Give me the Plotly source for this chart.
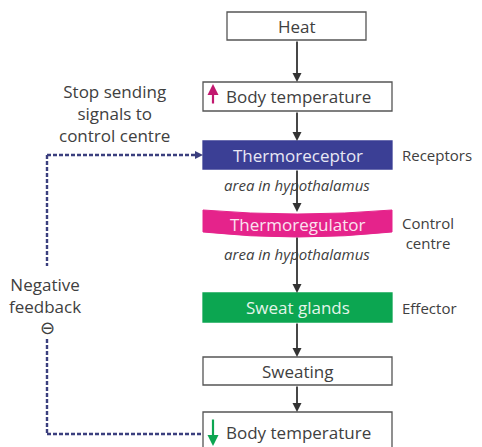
import plotly.graph_objects as go

# ---- content ----
node_labels = ["Heat", "Body temperature", "Thermoreceptor", "Thermoregulator",
               "Sweat glands", "Sweating", "Body temperature"]
node_fills = ["white", "white", "#3B3F95", "#E5238B", "#0CA651", "white", "white"]
node_text_colors = ["#404040", "#404040", "#E8E8F4", "#FBE3F0", "#E3F5EA", "#404040", "#404040"]
sub_labels = ["area in hypothalamus", "area in hypothalamus"]
side_labels = ["Receptors", "Control<br>centre", "Effector"]
left_top_label = "Stop sending<br>signals to<br>control centre"
left_mid_label = "Negative<br>feedback"

# ---- layout geometry (window pixel coordinates; page body has an 8px margin) ----
W, H = 482, 447
M = 8
X0, X1, XC = 203, 392, 297
boxes = [  # (x0, x1, y0, y1)
    (227, 366, 12, 40),
    (X0, X1, 82, 111),
    (X0, X1, 141, 169),
    (X0, X1, 210, 232),
    (X0, X1, 293, 322),
    (X0, X1, 357, 385),
    (X0, X1, 412, 452),
]
txt = "#404040"
font = "Open Sans"
navy = "#3B3F7E"
FS = 17

fig = go.Figure()
fig.add_trace(go.Scatter(x=[M, W], y=[M, H], mode="markers",
                         marker=dict(opacity=0), hoverinfo="skip", showlegend=False))

shapes = []
annotations = []

for i, (lab, fill, tc) in enumerate(zip(node_labels, node_fills, node_text_colors)):
    x0, x1, y0, y1 = boxes[i]
    if i == 3:
        path = (f"M {x0},{y0} Q {(x0+x1)/2},{y0+8} {x1},{y0} "
                f"L {x1},{y1} Q {(x0+x1)/2},{y1+10} {x0},{y1} Z")
        shapes.append(dict(type="path", path=path, xref="x", yref="y",
                           fillcolor=fill, line=dict(color=fill, width=1)))
    else:
        border = "#555555" if fill == "white" else fill
        shapes.append(dict(type="rect", x0=x0, x1=x1, y0=y0, y1=y1, xref="x", yref="y",
                           fillcolor=fill, line=dict(color=border, width=1.3)))
    ty = (y0 + y1) / 2 if i != 6 else 432
    tx = (x0 + x1) / 2
    if i in (1, 6):
        tx = 298
    if i == 3:
        ty = 224
    annotations.append(dict(x=tx, y=ty, xref="x", yref="y", text=lab, showarrow=False,
                            font=dict(family=font, size=FS, color=tc)))

# vertical arrows between boxes
arrow_pairs = [(40, 82), (111, 141), (169, 212), (236, 293), (322, 357), (385, 412)]
for ya, yb in arrow_pairs:
    annotations.append(dict(x=XC, y=yb, ax=XC, ay=ya, xref="x", yref="y", axref="x", ayref="y",
                            text="", showarrow=True, arrowhead=2, arrowsize=1,
                            arrowwidth=1.8, arrowcolor="#333333"))

# sub labels
for ylab, s in zip([185, 254], sub_labels):
    annotations.append(dict(x=XC, y=ylab, xref="x", yref="y", text=f"<i>{s}</i>",
                            showarrow=False, font=dict(family=font, size=15, color=txt)))

# side labels
for (ylab, s) in zip([155, 233, 308], side_labels):
    annotations.append(dict(x=400, y=ylab, xref="x", yref="y", text=s, xanchor="left",
                            showarrow=False, font=dict(family=font, size=15, color=txt)))

# left labels
annotations.append(dict(x=114, y=113, xref="x", yref="y", text=left_top_label,
                        showarrow=False, font=dict(family=font, size=FS, color=txt)))
annotations.append(dict(x=45, y=295, xref="x", yref="y", text=left_mid_label,
                        showarrow=False, font=dict(family=font, size=FS, color=txt)))
annotations.append(dict(x=47, y=327, xref="x", yref="y", text="⊖",
                        showarrow=False, font=dict(family="DejaVu Sans", size=18, color=txt)))

# up/down arrows inside body temperature boxes
annotations.append(dict(x=213, y=84, ax=213, ay=105, xref="x", yref="y", axref="x", ayref="y",
                        text="", showarrow=True, arrowhead=2, arrowsize=1, arrowwidth=2.2,
                        arrowcolor="#C2186F"))
annotations.append(dict(x=213, y=446, ax=213, ay=418, xref="x", yref="y", axref="x", ayref="y",
                        text="", showarrow=True, arrowhead=2, arrowsize=1, arrowwidth=2.2,
                        arrowcolor="#0CA651"))

# dashed feedback loop
dash = dict(color=navy, width=2.4, dash="4px,2px")
shapes.append(dict(type="line", x0=47, x1=196, y0=155, y1=155, xref="x", yref="y", line=dash))
shapes.append(dict(type="line", x0=47, x1=47, y0=155, y1=266, xref="x", yref="y", line=dash))
shapes.append(dict(type="line", x0=47, x1=47, y0=339, y1=434, xref="x", yref="y", line=dash))
shapes.append(dict(type="line", x0=47, x1=202, y0=434, y1=434, xref="x", yref="y", line=dash))
annotations.append(dict(x=203, y=155, ax=194, ay=155, xref="x", yref="y", axref="x", ayref="y",
                        text="", showarrow=True, arrowhead=2, arrowsize=0.8, arrowwidth=2,
                        arrowcolor=navy))

fig.update_layout(
    width=W - M, height=H - M, margin=dict(l=0, r=0, t=0, b=0),
    paper_bgcolor="white", plot_bgcolor="white",
    xaxis=dict(range=[M, W], visible=False, fixedrange=True),
    yaxis=dict(range=[H, M], visible=False, fixedrange=True),
    shapes=shapes, annotations=annotations, showlegend=False,
)
fig.write_html("out.html")
